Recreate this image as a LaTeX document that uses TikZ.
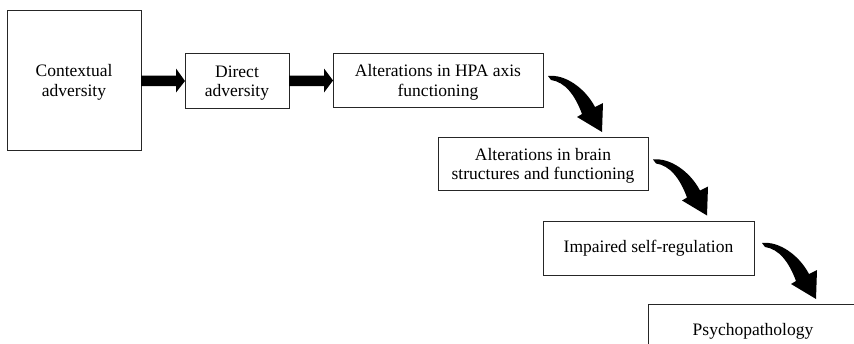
\documentclass[tikz,border=0pt]{standalone}
\usepackage{fontspec}
\setmainfont{Liberation Serif}
\usetikzlibrary{calc}
\newcommand{\lowtext}[1]{\raisebox{-2.5pt}[\height][\depth]{\begin{tabular}{@{}c@{}}#1\end{tabular}}}
\begin{document}
\begin{tikzpicture}[x=1pt,y=-1pt,
  box/.style={draw=black!85, line width=1pt, inner sep=0pt, outer sep=0pt, align=center,
    font=\fontsize{17.5}{19.5}\selectfont, fill=white},
  curvedarrow/.pic={
    \fill[black] (5,-4) .. controls (22,-6) and (42,8) .. (52,27)
      -- (60,23) -- (59,52) -- (34,37) -- (39,34)
      .. controls (32,15) and (22,2) .. (8,0) -- cycle;
  }]
\clip (0,0) rectangle (854,343);
\fill[white] (0,0) rectangle (854,343);

\node[box, minimum width=134pt, minimum height=140pt] (b1) at (74,80) {\lowtext{Contextual\\adversity}};
\node[box, minimum width=104pt, minimum height=55pt] (b2) at (237,80.5) {\lowtext{Direct\\adversity}};
\node[box, minimum width=210pt, minimum height=54pt] (b3) at (438,80) {\lowtext{Alterations in HPA axis\\functioning}};
\node[box, minimum width=210pt, minimum height=53pt] (b4) at (543,163.5) {\lowtext{Alterations in brain\\structures and functioning}};
\node[box, minimum width=211pt, minimum height=54pt] (b5) at (648.5,248) {Impaired self-regulation};
\node[box, minimum width=210pt, minimum height=54pt] (b6) at (753,331) {Psychopathology};

% straight block arrows
\fill[black] ($(b1.east)+(0,-4.5)$) -- ++(35,0) -- ++(0,-7) -- ($(b2.west)+(0,0.5)$)
  -- ($(b1.east)+(35,12.5)$) -- ++(0,-6.5) -- ($(b1.east)+(0,6)$) -- cycle;
\fill[black] ($(b2.east)+(0,-5)$) -- ++(35,0) -- ++(0,-7) -- ($(b3.west)+(0,0.5)$)
  -- ($(b2.east)+(35,12)$) -- ++(0,-6.5) -- ($(b2.east)+(0,5.5)$) -- cycle;

% curved block arrows
\pic at (b3.east) {curvedarrow};
\pic at (b4.east) {curvedarrow};
\pic at ($(b5.east)+(3,-1)$) {curvedarrow};
\end{tikzpicture}
\end{document}
